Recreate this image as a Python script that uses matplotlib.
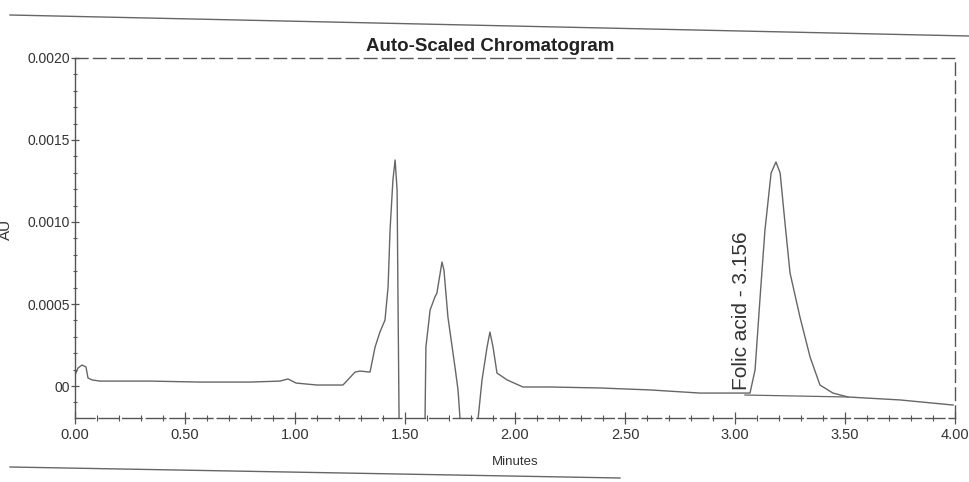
#!/usr/bin/env python3
"""
Auto-scaled HPLC chromatogram (folic acid peak), redrawn from a scanned printout.
"""
import matplotlib as mpl
import matplotlib.pyplot as plt
from matplotlib.ticker import MultipleLocator, FixedLocator, FixedFormatter
from matplotlib.lines import Line2D

mpl.rcParams.update({
    "font.family": ["Liberation Sans", "DejaVu Sans"],
    "figure.dpi": 100,
})

C_TRACE = "#666666"
C_AXIS = "#555555"
C_TEXT = "#333333"

# detector trace (minutes, AU)
time_min = [0.000, 0.014, 0.032, 0.050, 0.059, 0.077, 0.114, 0.341, 0.568, 0.795,
            0.932, 0.968, 1.005, 1.100, 1.218, 1.273, 1.295, 1.341, 1.364, 1.386,
            1.409, 1.423, 1.432, 1.445, 1.455, 1.464, 1.468, 1.473, 1.591, 1.595,
            1.614, 1.636, 1.645, 1.668, 1.677, 1.695, 1.727, 1.741, 1.750, 1.832,
            1.850, 1.873, 1.886, 1.900, 1.918, 1.964, 2.036, 2.159, 2.386, 2.614,
            2.841, 3.068, 3.091, 3.114, 3.136, 3.164, 3.186, 3.205, 3.227, 3.250,
            3.295, 3.341, 3.386, 3.445, 3.514, 3.750, 3.991]
au = [0.000067, 0.000110, 0.000128, 0.000116, 0.000049, 0.000037, 0.000030, 0.000030,
      0.000024, 0.000024, 0.000030, 0.000043, 0.000018, 0.000006, 0.000006, 0.000085,
      0.000091, 0.000085, 0.000238, 0.000329, 0.000402, 0.000604, 0.000951, 0.001256,
      0.001378, 0.001195, 0.000543, -0.000200, -0.000200, 0.000238, 0.000463, 0.000543,
      0.000567, 0.000756, 0.000707, 0.000421, 0.000116, -0.000024, -0.000200, -0.000200,
      0.000037, 0.000238, 0.000329, 0.000238, 0.000079, 0.000037, -0.000006, -0.000006,
      -0.000012, -0.000024, -0.000043, -0.000043, 0.000098, 0.000543, 0.000951, 0.001299,
      0.001366, 0.001299, 0.000994, 0.000689, 0.000421, 0.000177, 0.000006, -0.000043,
      -0.000067, -0.000085, -0.000116]

# integration baseline under the folic acid peak
base_t = [3.045, 3.514]
base_au = [-0.000055, -0.000067]

peak_name = "Folic acid"
peak_rt = 3.156
label_t = 3.03
label_au = -0.000024

x_ticks = [0.0, 0.5, 1.0, 1.5, 2.0, 2.5, 3.0, 3.5, 4.0]
x_labels = ["0.00", "0.50", "1.00", "1.50", "2.00", "2.50", "3.00", "3.50", "4.00"]
y_ticks = [0.0, 0.0005, 0.0010, 0.0015, 0.0020]
y_labels = ["00", "0.0005", "0.0010", "0.0015", "0.0020"]

fig = plt.figure(figsize=(9.69, 4.82))
ax = fig.add_axes([0.0774, 0.1328, 0.9082, 0.7469])

ax.plot(time_min, au, color=C_TRACE, linewidth=1.0)
ax.plot(base_t, base_au, color=C_TRACE, linewidth=0.9)

ax.text(label_t, label_au, f"{peak_name} - {peak_rt:.3f}", rotation=90,
        ha="center", va="bottom", fontsize=15, color=C_TEXT)

ax.set_xlim(0, 4.0)
ax.set_ylim(-0.000195, 0.0020)

ax.xaxis.set_major_locator(FixedLocator(x_ticks))
ax.xaxis.set_major_formatter(FixedFormatter(x_labels))
ax.xaxis.set_minor_locator(MultipleLocator(0.1))
ax.yaxis.set_major_locator(FixedLocator(y_ticks))
ax.yaxis.set_major_formatter(FixedFormatter(y_labels))
ax.yaxis.set_minor_locator(MultipleLocator(0.0001))

ax.tick_params(axis="x", which="major", direction="inout", length=9, width=0.9,
               color=C_AXIS, labelsize=10.5, labelcolor=C_TEXT, pad=3)
ax.tick_params(axis="x", which="minor", direction="inout", length=4, width=0.8, color=C_AXIS)
ax.tick_params(axis="y", which="major", direction="inout", length=6, width=0.9,
               color=C_AXIS, labelsize=10, labelcolor=C_TEXT, pad=0.5)
ax.tick_params(axis="y", which="minor", direction="inout", length=3, width=0.8, color=C_AXIS)

for side in ["top", "right"]:
    ax.spines[side].set_linestyle((0, (9, 4)))
ax.spines["bottom"].set_linestyle((0, (14, 3)))
for sp in ax.spines.values():
    sp.set_color(C_AXIS)
    sp.set_linewidth(1.0)

ax.set_xlabel("Minutes", fontsize=9.5, color=C_TEXT, labelpad=10)
fig.text(0.006, 0.523, "AU", rotation=90, ha="center", va="center",
         fontsize=11, color=C_TEXT)

fig.text(0.5057, 0.9025, "Auto-Scaled Chromatogram", ha="center", va="center",
         fontsize=13.5, fontweight="bold", color="#222222")

# page edges from the scan
fig.add_artist(Line2D([10 / 969, 1.0], [1 - 15 / 482, 1 - 36 / 482],
                      color="#666666", linewidth=1.0))
fig.add_artist(Line2D([10 / 969, 620 / 969], [1 - 467 / 482, 1 - 478 / 482],
                      color="#666666", linewidth=1.0))

fig.savefig("out.png", dpi=100)
print("saved out.png")
